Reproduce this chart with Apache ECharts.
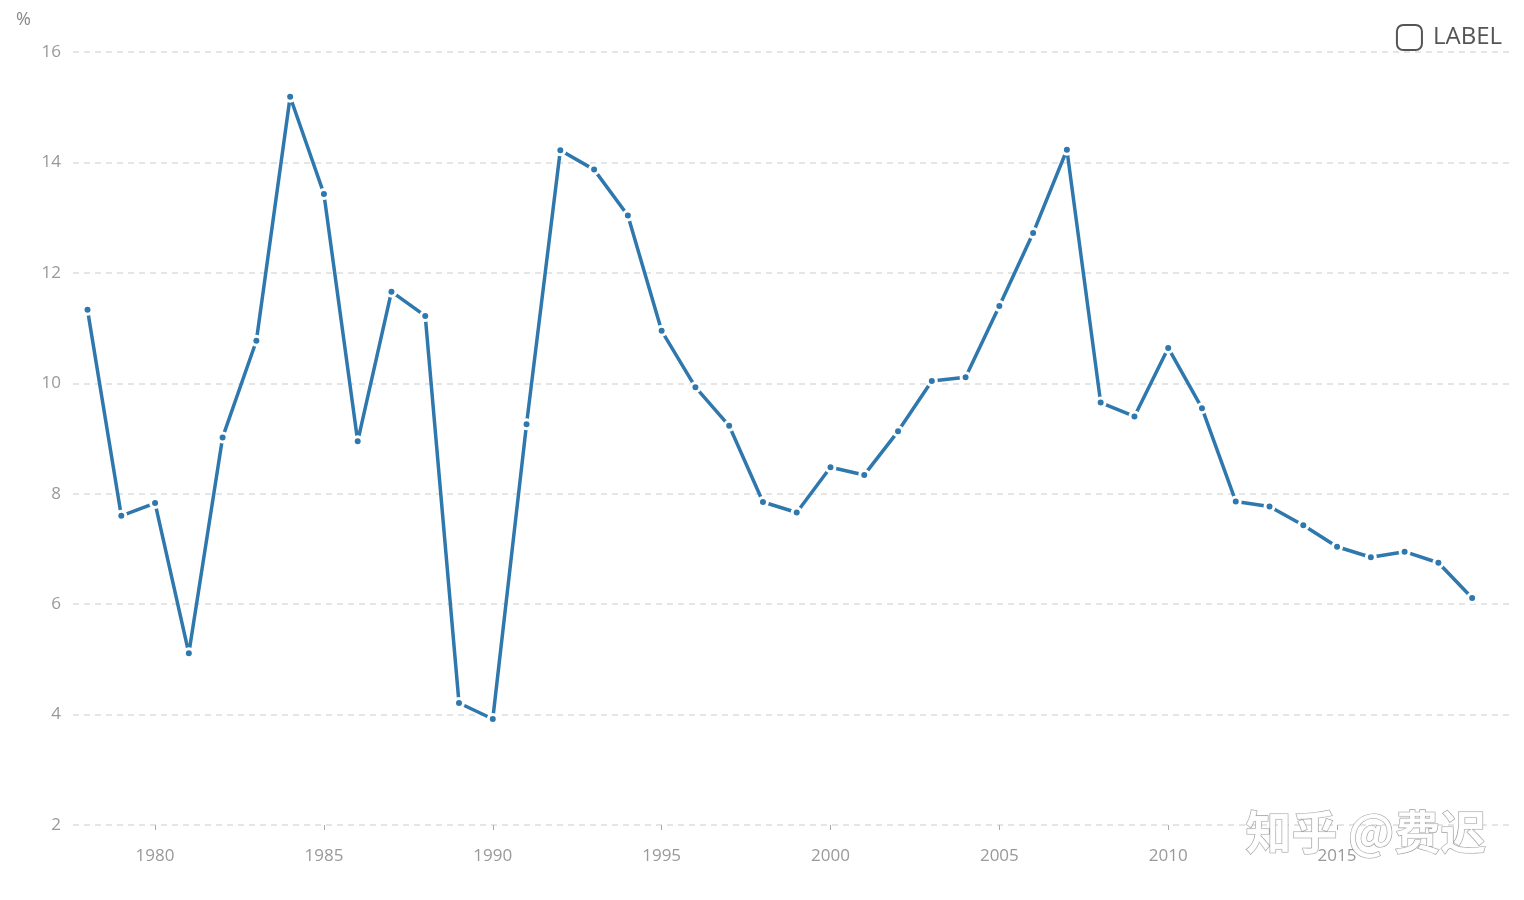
<!DOCTYPE html>
<html>
<head>
<meta charset="utf-8">
<script src="https://cdn.jsdelivr.net/npm/echarts@6/dist/echarts.min.js"></script>
<style>
html,body{margin:0;padding:0;background:#fff;}
#chart{width:1524px;height:900px;}
</style>
</head>
<body>
<div id="chart"></div>
<script>
const years = [1978,1979,1980,1981,1982,1983,1984,1985,1986,1987,1988,1989,1990,1991,1992,1993,1994,1995,1996,1997,1998,1999,2000,2001,2002,2003,2004,2005,2006,2007,2008,2009,2010,2011,2012,2013,2014,2015,2016,2017,2018,2019];
const growth = [11.33,7.6,7.83,5.11,9.02,10.77,15.19,13.43,8.95,11.66,11.22,4.21,3.92,9.26,14.22,13.87,13.04,10.95,9.93,9.23,7.85,7.66,8.48,8.34,9.13,10.04,10.11,11.4,12.72,14.23,9.65,9.4,10.64,9.55,7.86,7.77,7.43,7.04,6.85,6.95,6.75,6.11];
const xTickLabels = [1980,1985,1990,1995,2000,2005,2010,2015];
const seriesName = 'LABEL';

const chart = echarts.init(document.getElementById('chart'));
const font = '"Open Sans", "Noto Sans", sans-serif';
chart.setOption({
  animation: false,
  textStyle: {fontFamily: font},
  grid: {left: 73, right: 12, top: 52, bottom: 75, containLabel: false},
  legend: {
    right: 17, top: 19,
    icon: 'roundRect',
    itemWidth: 25, itemHeight: 25,
    itemGap: 10,
    itemStyle: {color: '#fff', borderColor: '#555', borderWidth: 2},
    textStyle: {color: '#555', fontSize: 24, fontFamily: font, padding: [0, 0, 0, 6]},
    data: [seriesName]
  },
  xAxis: {
    type: 'value',
    min: 1977.57, max: 2020.18,
    axisLine: {show: false},
    splitLine: {show: false},
    axisTick: {show: true, customValues: xTickLabels, length: 5, lineStyle: {color: '#aaa'}},
    axisLabel: {customValues: xTickLabels, color: '#999', fontSize: 17, margin: 23, formatter: v => String(v)}
  },
  yAxis: {
    type: 'value',
    min: 2, max: 16, interval: 2,
    name: '%',
    nameLocation: 'end',
    nameGap: 23,
    nameTextStyle: {color: '#888', fontSize: 18, align: 'left', padding: [0, 0, 0, -57]},
    axisLine: {show: false},
    axisTick: {show: false},
    axisLabel: {color: '#999', fontSize: 17, margin: 12},
    splitLine: {lineStyle: {color: '#ddd', type: [6, 5], width: 1.5}}
  },
  series: [{
    name: seriesName,
    type: 'line',
    data: years.map((y, i) => [y, growth[i]]),
    symbol: 'circle',
    symbolSize: 9,
    showAllSymbol: true,
    lineStyle: {color: '#2e78ad', width: 3.5},
    itemStyle: {color: '#2e78ad', borderColor: '#fff', borderWidth: 3},
    z: 3
  }],
  graphic: [{
    type: 'text',
    left: 1245, top: 808,
    z: 100,
    style: {
      text: '知乎 @费迟',
      font: 'bold 46px "Noto Sans CJK SC", sans-serif',
      fill: 'rgba(255,255,255,0.9)',
      stroke: 'rgba(140,140,140,0.85)',
      lineWidth: 1.2
    }
  }]
});
</script>
</body>
</html>
